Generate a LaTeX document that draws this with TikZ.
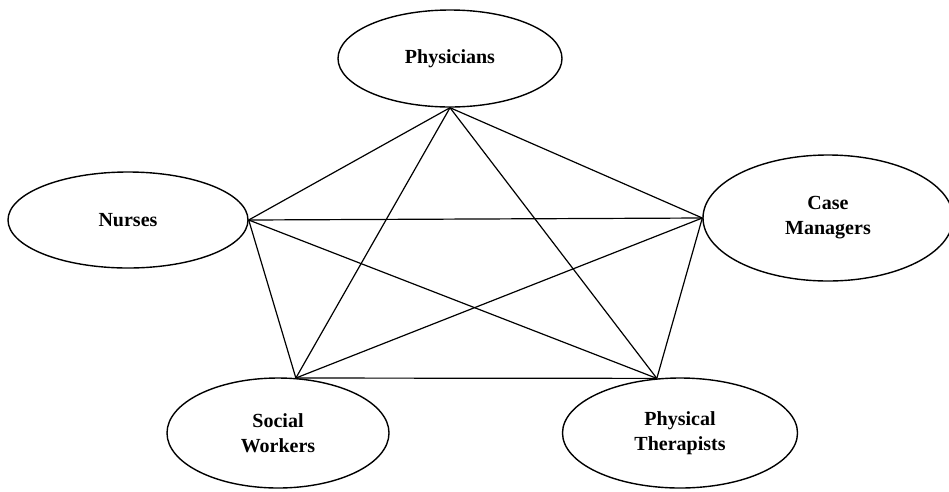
\documentclass[tikz,border=0pt]{standalone}
\usepackage{fontspec}
\setmainfont{Liberation Serif}
\usetikzlibrary{shapes.geometric}
\begin{document}
\begin{tikzpicture}[x=1pt,y=-1pt,
  role/.style={ellipse,draw,line width=1.4pt,inner sep=0pt,align=center,
    font=\fontsize{20}{25}\selectfont\bfseries},
  link/.style={line width=1.2pt}]
\useasboundingbox (0,0) rectangle (949,491);
\node[role,minimum width=224pt,minimum height=97pt] (phys) at (450,58.5) {Physicians};
\node[role,minimum width=240pt,minimum height=96pt] (nurse) at (128,220) {Nurses};
\node[role,minimum width=250pt,minimum height=126pt] (case) at (828,218) {Case\\Managers};
\node[role,minimum width=222pt,minimum height=110pt] (sw) at (278,433) {Social\\Workers};
\node[role,minimum width=235pt,minimum height=110pt] (pt) at (680,433) {Physical\\Therapists};
\draw[link] (phys.south) -- (nurse.east);
\draw[link] (phys.south) -- (case.west);
\draw[link] (phys.south) -- (sw.72);
\draw[link] (phys.south) -- (pt.113);
\draw[link] (nurse.east) -- (case.west);
\draw[link] (nurse.east) -- (sw.72);
\draw[link] (nurse.east) -- (pt.113);
\draw[link] (case.west) -- (sw.72);
\draw[link] (case.west) -- (pt.113);
\draw[link] (sw.72) -- (pt.113);
\end{tikzpicture}
\end{document}
